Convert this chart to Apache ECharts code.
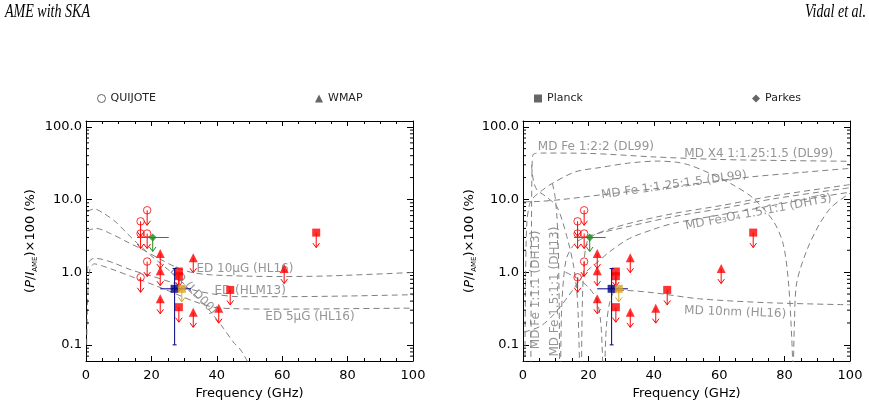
<!DOCTYPE html>
<html><head><meta charset="utf-8">
<script src="https://cdn.jsdelivr.net/npm/echarts@6/dist/echarts.min.js"></script>
<style>html,body{margin:0;padding:0;background:#fff}#c{width:869px;height:407px}</style>
</head><body><div id="c"></div>
<script>
// ---------------- data ----------------
const xTicks = [0, 20, 40, 60, 80, 100];
const yTickLabels = ['0.1', '1.0', '10.0', '100.0'];
const yMinorTicks = [0.07,0.08,0.09,0.2,0.3,0.4,0.5,0.6,0.7,0.8,0.9,2,3,4,5,6,7,8,9,20,30,40,50,60,70,80,90];

// QUIJOTE upper limits [GHz, %]
const quijote = [[16.7,5.0],[16.7,3.4],[16.7,0.85],[18.7,7.1],[18.7,3.4],[18.7,1.4]];
// WMAP upper limits
const wmap = [[22.7,1.8],[22.7,1.05],[22.7,0.43],[32.8,1.58],[32.8,0.28],[40.6,0.32],[60.6,1.12]];
// Planck upper limits
const planck = [[28.4,1.02],[28.4,0.88],[28.4,0.33],[44.1,0.57],[70.4,3.5]];
// measurement with error bars [x, y, xlo, xhi, ylo, yhi]
const navyPoint = [[27.1, 0.59, 22.7, 32.1, 0.1, 1.12]];
const goldPoint = [[29.3, 0.59]];
// Parkes upper limit [x, y, xlo, xhi]
const parkes = [[20.4, 3.0, 15.6, 25.3]];

// Left panel: electric dipole models
const edLD00 = [[0.3,6.8],[2.5,7.4],[5.5,6.4],[9.1,4.9],[12.6,3.4],[15.7,2.5],[19.8,1.7],[23.9,1.2],[27.9,0.85],[33,0.5],[38,0.29],[42,0.17],[45,0.11],[47.3,0.085],[49.5,0.058]];
const edHL16_10 = [[0.3,3.7],[3,4.0],[7.5,3.4],[12.6,2.6],[17.7,2.0],[22.8,1.5],[27,1.2],[32,1.0],[38,0.92],[50,0.88],[60,0.87],[75,0.89],[100,0.99]];
const edHLM13 = [[0.4,1.0],[1,1.4],[2.5,1.55],[5,1.5],[8.6,1.33],[13.9,1.07],[20.6,0.87],[26.7,0.71],[32.8,0.57],[39,0.5],[47,0.46],[60,0.46],[80,0.47],[100,0.49]];
const edHL16_5 = [[0.2,0.1],[0.6,0.55],[1.2,1.1],[2.5,1.3],[5,1.22],[8.6,1.07],[13.9,0.87],[20.6,0.67],[26.7,0.52],[32.8,0.4],[39,0.33],[45,0.315],[60,0.31],[80,0.315],[100,0.32]];

// Right panel: magnetic dipole models
const mdFe122 = [[2.4,0.05],[2.5,0.5],[2.6,5],[2.8,30],[3.2,42],[6,43.5],[20,43],[40,38.5],[60,35.5],[80,34.3],[100,33.5]];
const mdX4 = [[0.6,0.05],[0.8,1],[1.2,5],[2,8.5],[3,10.4],[6,13.5],[9,16.7],[16,24],[23.6,27.5],[32,31.5],[41,33.7],[47,32.5],[51,29.6],[57,23],[64.3,15.8],[70.4,10.4],[76.6,5],[79.6,2.4],[81.2,0.71],[82.2,0.12],[82.5,0.05]];
const mdX4High = [[82.7,0.05],[83,0.2],[83.7,0.71],[86.8,2],[90.8,4.7],[94.4,7.9],[100,12.2]];
const mdFe1125 = [[0.3,9.3],[5,9.4],[12,10],[24,11.6],[40,14],[55,17],[70,20.5],[85,23.5],[100,26.8]];
const mdFe111Low = [[2.6,30],[3.2,18],[4.3,13.5],[7,11],[10.4,7.9],[13.4,3.1],[15.5,1.2],[16.6,0.45],[17.1,0.12],[17.3,0.05]];
const mdFe111High = [[17.9,0.05],[18.1,0.3],[18.6,1.2],[19.6,2.6],[22,3.3],[31.8,4.6],[46,6.4],[61,8.3],[76.6,11.2],[100,16]];
const mdFe1511Low = [[9,16.7],[9.8,11],[10.4,5.5],[10.8,2],[11.05,0.4],[11.2,0.05]];
const mdFe1511High = [[11.5,0.05],[11.8,0.3],[12.4,0.8],[13.4,1.6],[16,2.5],[19.6,3.1],[31.8,4.2],[46,5.8],[61,7.55],[76.6,10.2],[100,14.5]];
const mdFe3O4 = [[0.3,0.15],[5.3,0.18],[10,0.28],[15,0.55],[19.2,1.0],[23,1.4],[26.4,1.9],[32.5,2.9],[40,3.9],[46,4.7],[60,6.1],[72,7.6],[85,9.8],[100,12.6]];
const md10nmLow = [[13,1.0],[17,0.8],[20,0.62],[22.5,0.42],[23.8,0.2],[24.4,0.05]];
const md10nmHigh = [[25,0.05],[25.5,0.18],[26.5,0.38],[28,0.54],[31,0.56],[40,0.52],[54,0.43],[75,0.38],[100,0.356]];

// curve annotations (text, anchor in data units, rotation)
const leftNotes = [
  {t:'ED 10μG (HL16)', at:[48.6,1.11], r:0},
  {t:'ED (HLM13)', at:[50.2,0.56], r:0},
  {t:'ED 5μG (HL16)', at:[68.5,0.246], r:0},
  {t:'ED (LD00)', at:[32.8,0.55], r:-45}
];
const rightNotes = [
  {t:'MD Fe 1:2:2 (DL99)', at:[22.3,52.9], r:0},
  {t:'MD X4 1:1.25:1.5 (DL99)', at:[72.1,42], r:0},
  {t:'MD Fe 1:1.25:1.5 (DL99)', at:[46.2,15.8], r:8},
  {t:'MD Fe₃O₄ 1.5:1:1 (DHT3)', at:[72,6.66], r:11},
  {t:'MD 10nm (HL16)', at:[64.9,0.28], r:-2},
  {t:'MD Fe 1:1:1 (DH13)', at:[4.06,0.57], r:90},
  {t:'MD Fe 1.5:1:1 (DH13)', at:[9.87,0.54], r:90}
];

// ---------------- chart ----------------
const FONT = 'DejaVu Sans';
const RED = '#ff0000', NAVY = '#000080', GOLD = '#d9a521', GREEN = '#228b22', GREY = '#808080';
const YMIN = 0.06, YMAX = 120;

const chart = echarts.init(document.getElementById('c'));

function fmtY(v) {
  const l = Math.log10(v);
  if (Math.abs(l - Math.round(l)) > 1e-6) return '';
  const i = Math.round(l) + 1;
  return yTickLabels[i] !== undefined ? yTickLabels[i] : '';
}

function xAxes(gi) {
  const base = {gridIndex: gi, type: 'value', min: xTicks[0], max: xTicks[xTicks.length-1], interval: xTicks[1]-xTicks[0],
    axisLine: {show: true, onZero: false, lineStyle: {color: '#000', width: 1}},
    axisTick: {show: true, inside: true, length: 5, lineStyle: {color: '#000'}},
    minorTick: {show: true, splitNumber: 4, length: 3, lineStyle: {color: '#000'}},
    splitLine: {show: false}, minorSplitLine: {show: false}};
  return [
    Object.assign({}, base, {position: 'bottom',
      axisLabel: {show: true, margin: 8, fontSize: 13, fontFamily: FONT, color: '#000'},
      name: 'Frequency (GHz)', nameLocation: 'middle', nameGap: 24,
      nameTextStyle: {fontSize: 13, fontFamily: FONT, color: '#000'}}),
    Object.assign({}, base, {position: 'top', axisLabel: {show: false}})
  ];
}
const yName = '{n|(}{i|P}{n|/}{i|I}{s|AME}{n|)×100 (%)}';
function yAxes(gi, gap) {
  const base = {gridIndex: gi, type: 'log', logBase: 10, min: YMIN, max: YMAX,
    axisLine: {show: true, onZero: false, lineStyle: {color: '#000', width: 1}},
    axisTick: {show: true, inside: true, length: 6, lineStyle: {color: '#000'}},
    minorTick: {show: false}, splitLine: {show: false}};
  return [
    Object.assign({}, base, {position: 'left',
      axisLabel: {show: true, margin: 4, fontSize: 13, fontFamily: FONT, color: '#000', formatter: fmtY},
      name: yName, nameLocation: 'middle', nameGap: gap, nameRotate: 90,
      nameTextStyle: {rich: {
        n: {fontSize: 13, fontFamily: FONT, color: '#000', lineHeight: 16},
        i: {fontSize: 13, fontFamily: FONT, fontStyle: 'italic', color: '#000', lineHeight: 16},
        s: {fontSize: 7, fontFamily: FONT, color: '#000', lineHeight: 9, verticalAlign: 'bottom'}
      }}}),
    Object.assign({}, base, {position: 'right', axisLabel: {show: false}})
  ];
}

function curve(data, gi) {
  return {type: 'line', xAxisIndex: gi*2, yAxisIndex: gi*2, data: data, symbol: 'none', showSymbol: false,
    smooth: 0.3, lineStyle: {color: GREY, width: 1, type: [6, 4]}, silent: true, z: 1};
}
function notes(list, gi) {
  return {type: 'scatter', xAxisIndex: gi*2, yAxisIndex: gi*2, symbolSize: 0, silent: true, z: 2,
    data: list.map(n => ({value: n.at, label: {show: true, position: 'inside', formatter: n.t, rotate: n.r,
      color: '#7a7a7a', fontSize: 12, fontFamily: FONT}}))};
}
function minorTicks(gi) {
  return {type: 'custom', xAxisIndex: gi*2, yAxisIndex: gi*2, silent: true, z: 3, clip: false,
    data: yMinorTicks.map(v => [0, v]),
    renderItem: (p, api) => {
      const v = api.value(1);
      const l = api.coord([xTicks[0], v]), r = api.coord([xTicks[xTicks.length-1], v]);
      const st = {stroke: '#000', lineWidth: 1};
      return {type: 'group', children: [
        {type: 'line', shape: {x1: l[0], y1: l[1], x2: l[0]+3, y2: l[1]}, style: st},
        {type: 'line', shape: {x1: r[0]-3, y1: r[1], x2: r[0], y2: r[1]}, style: st}
      ]};
    }};
}
function arrows(data, color, gi, len) {
  return {type: 'custom', xAxisIndex: gi*2, yAxisIndex: gi*2, silent: true, z: 4,
    data: data.map(d => [d[0], d[1]]),
    renderItem: (p, api) => {
      const c = api.coord([api.value(0), api.value(1)]);
      const st = {stroke: color, lineWidth: 1, fill: null};
      return {type: 'group', children: [
        {type: 'line', shape: {x1: c[0], y1: c[1], x2: c[0], y2: c[1]+len}, style: st},
        {type: 'polyline', shape: {points: [[c[0]-3.3, c[1]+len-4.5], [c[0], c[1]+len], [c[0]+3.3, c[1]+len-4.5]]}, style: st}
      ]};
    }};
}
function errBars(data, color, gi, withY) {
  return {type: 'custom', xAxisIndex: gi*2, yAxisIndex: gi*2, silent: true, z: 6,
    data: data,
    renderItem: (p, api) => {
      const y = api.value(1), x = api.value(0);
      const a = api.coord([api.value(2), y]), b = api.coord([api.value(3), y]);
      const st = {stroke: color, lineWidth: 1};
      const ch = [{type: 'line', shape: {x1: a[0], y1: a[1], x2: b[0], y2: b[1]}, style: st}];
      if (withY) {
        const lo = api.coord([x, api.value(4)]), hi = api.coord([x, api.value(5)]);
        ch.push({type: 'line', shape: {x1: lo[0], y1: lo[1], x2: hi[0], y2: hi[1]}, style: st});
        ch.push({type: 'line', shape: {x1: lo[0]-2, y1: lo[1], x2: lo[0]+2, y2: lo[1]}, style: st});
        ch.push({type: 'line', shape: {x1: hi[0]-2, y1: hi[1], x2: hi[0]+2, y2: hi[1]}, style: st});
      }
      return {type: 'group', children: ch};
    }};
}
function points(gi) {
  const ax = {xAxisIndex: gi*2, yAxisIndex: gi*2, silent: true};
  return [
    arrows(wmap, RED, gi, 15),
    Object.assign({type: 'scatter', data: wmap, symbol: 'triangle', symbolSize: [9, 9], itemStyle: {color: RED}, z: 5}, ax),
    arrows(planck, RED, gi, 15),
    Object.assign({type: 'scatter', data: planck, symbol: 'rect', symbolSize: 8, itemStyle: {color: RED}, z: 5}, ax),
    arrows(quijote, RED, gi, 15),
    Object.assign({type: 'scatter', data: quijote, symbol: 'circle', symbolSize: 7.5,
      itemStyle: {color: 'rgba(0,0,0,0)', borderColor: RED, borderWidth: 1}, z: 5}, ax),
    errBars(navyPoint, NAVY, gi, true),
    Object.assign({type: 'scatter', data: navyPoint.map(d => [d[0], d[1]]), symbol: 'rect', symbolSize: 8, itemStyle: {color: NAVY}, z: 7}, ax),
    arrows(goldPoint, GOLD, gi, 13),
    Object.assign({type: 'scatter', data: goldPoint, symbol: 'rect', symbolSize: 8, itemStyle: {color: GOLD}, z: 8}, ax),
    errBars(parkes, GREEN, gi, false),
    arrows(parkes, GREEN, gi, 14),
    Object.assign({type: 'scatter', data: parkes.map(d => [d[0], d[1]]), symbol: 'diamond', symbolSize: 8, itemStyle: {color: GREEN}, z: 8}, ax)
  ];
}

const LEGEND_GREY = '#404040';
function leg(name, icon, left, style) {
  return {left: left, top: 93, padding: 0, itemWidth: 8, itemHeight: 8, itemGap: 0, selectedMode: false,
    textStyle: {fontSize: 11, fontFamily: FONT, color: '#222'},
    data: [{name: name, icon: icon, itemStyle: style}]};
}
const legendSeries = ['QUIJOTE', 'WMAP', 'Planck', 'Parkes'].map(n => ({
  type: 'scatter', name: n, data: [], xAxisIndex: 0, yAxisIndex: 0, itemStyle: {color: LEGEND_GREY}}));

const series = [].concat(
  [edLD00, edHL16_10, edHLM13, edHL16_5].map(d => curve(d, 0)),
  [notes(leftNotes, 0), minorTicks(0)],
  points(0),
  [mdFe122, mdX4, mdX4High, mdFe1125, mdFe111Low, mdFe111High, mdFe1511Low, mdFe1511High, mdFe3O4, md10nmLow, md10nmHigh].map(d => curve(d, 1)),
  [notes(rightNotes, 1), minorTicks(1)],
  points(1),
  legendSeries
);

chart.setOption({
  animation: false,
  backgroundColor: '#fff',
  grid: [
    {left: 86, top: 121, width: 327, height: 240},
    {left: 523, top: 121, width: 327, height: 240}
  ],
  xAxis: xAxes(0).concat(xAxes(1)),
  yAxis: yAxes(0, 47).concat(yAxes(1, 41)),
  legend: [
    leg('QUIJOTE', 'circle', 97, {color: '#fff', borderColor: LEGEND_GREY, borderWidth: 1}),
    leg('WMAP', 'triangle', 315, {color: LEGEND_GREY}),
    leg('Planck', 'rect', 534, {color: LEGEND_GREY}),
    leg('Parkes', 'diamond', 752, {color: LEGEND_GREY})
  ],
  graphic: [
    {type: 'text', x: 5, y: 3, scaleX: 0.78, silent: true,
      style: {text: 'AME with SKA', font: 'italic 18px "Liberation Serif"', fill: '#000', align: 'left', verticalAlign: 'top'}},
    {type: 'text', x: 866, y: 3, scaleX: 0.78, silent: true,
      style: {text: 'Vidal et al.', font: 'italic 18px "Liberation Serif"', fill: '#000', align: 'right', verticalAlign: 'top'}}
  ],
  series: series
});
</script>
</body></html>
